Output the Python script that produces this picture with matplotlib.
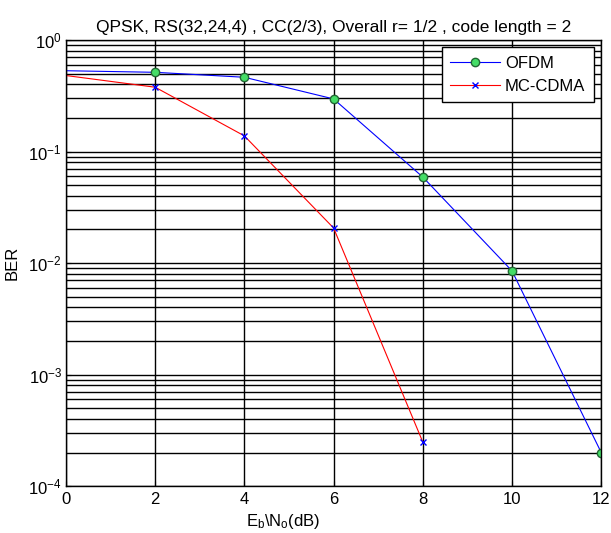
import matplotlib
matplotlib.use('Agg')
import matplotlib.pyplot as plt
from matplotlib.ticker import LogLocator, NullFormatter

plt.rcParams['font.family'] = ['Liberation Sans', 'DejaVu Sans']
plt.rcParams['mathtext.fontset'] = 'custom'
plt.rcParams['mathtext.rm'] = 'Liberation Sans'
plt.rcParams['mathtext.it'] = 'Liberation Sans'

ebno = [0, 2, 4, 6, 8, 10, 12]
ber_ofdm = [0.53, 0.513, 0.463, 0.296, 0.059, 0.0085, 2.0e-4]
ebno_mc = [0, 2, 4, 6, 8]
ber_mccdma = [0.48, 0.377, 0.138, 0.0206, 2.48e-4]

fig = plt.figure(figsize=(6.11, 5.33), dpi=100)
ax = fig.add_axes([0.108, 0.088, 0.876, 0.837])

ax.semilogy(ebno, ber_ofdm, color='blue', lw=0.8, marker='o', markersize=6,
            markerfacecolor='#44dd66', markeredgecolor='#226633', markevery=list(range(1, 7)),
            label='OFDM')
ax.semilogy(ebno_mc, ber_mccdma, color='red', lw=0.8, marker='x', markersize=5,
            markeredgecolor='blue', markevery=list(range(1, 5)), label='MC-CDMA')

ax.set_xlim(0, 12)
ax.set_ylim(1e-4, 1)
ax.set_xticks(range(0, 13, 2))
ax.yaxis.set_major_locator(LogLocator(base=10, numticks=10))
ax.yaxis.set_minor_locator(LogLocator(base=10, subs=range(2, 10), numticks=20))
ax.yaxis.set_minor_formatter(NullFormatter())
ax.grid(True, which='both', color='black', lw=1.0)
ax.tick_params(which='both', direction='in', labelsize=12)
ax.tick_params(axis='x', pad=4)
ax.tick_params(axis='y', pad=3)
for s in ax.spines.values():
    s.set_linewidth(1.0)

ax.set_title('QPSK, RS(32,24,4) , CC(2/3), Overall r= 1/2 , code length = 2', fontsize=12.5, pad=6)
ax.set_xlabel('E$_b$\\N$_o$(dB)', fontsize=12, labelpad=2)
ax.xaxis.set_label_coords(0.406, -0.058)
ax.set_ylabel('BER', fontsize=12, labelpad=6)

leg = ax.legend(loc='upper right', fontsize=12, fancybox=False, framealpha=1,
                edgecolor='black', borderaxespad=0.45, handlelength=3.0,
                handletextpad=0.3, labelspacing=0.5, borderpad=0.5)
leg.get_frame().set_linewidth(1.0)

plt.savefig('out.png', dpi=100)
